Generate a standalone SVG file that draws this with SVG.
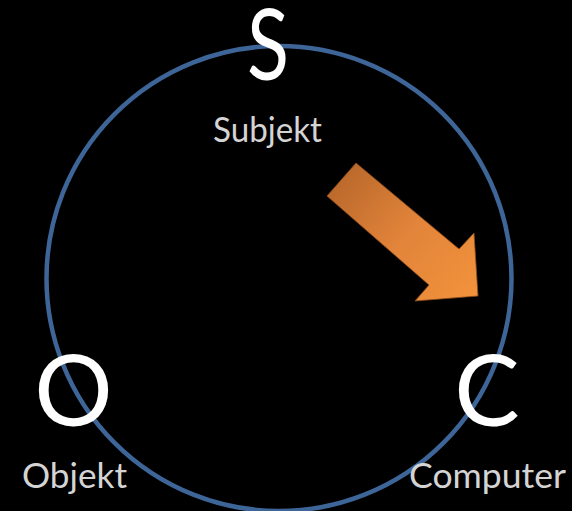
<svg xmlns="http://www.w3.org/2000/svg" width="572" height="511" viewBox="0 0 572 511">
<style>
.big{font-family:Lato,"Open Sans","Liberation Sans",sans-serif;font-size:98px;font-weight:400;fill:#ffffff;text-anchor:middle}
.lbl{font-family:Lato,"Open Sans","Liberation Sans",sans-serif;font-size:34px;font-weight:400;fill:#d4d4d4}
</style>
<defs>
<linearGradient id="og" x1="330" y1="170" x2="480" y2="300" gradientUnits="userSpaceOnUse">
<stop offset="0" stop-color="#b5652a"/>
<stop offset="0.5" stop-color="#e2843a"/>
<stop offset="1" stop-color="#f3933c"/>
</linearGradient>
</defs>
<rect width="572" height="511" fill="#000000"/>
<g id="connectors">
<circle cx="279" cy="278.5" r="232.5" fill="none" stroke="#3e6598" stroke-width="4.5"/>
<polygon points="356,163 327,196 429,285 415,301 478,296 474,233 459,249" fill="url(#og)" stroke="#8a4a1a" stroke-width="0.8"/>
</g>
<g id="node-s">
<text class="big" x="268" y="80" textLength="42" lengthAdjust="spacingAndGlyphs">S</text>
<text class="lbl" x="213" y="142" textLength="109" lengthAdjust="spacingAndGlyphs">Subjekt</text>
</g>
<g id="node-o">
<text class="big" x="73.5" y="426">O</text>
<text class="lbl" x="22" y="488" textLength="105" lengthAdjust="spacingAndGlyphs">Objekt</text>
</g>
<g id="node-c">
<text class="big" x="487" y="426">C</text>
<text class="lbl" x="409" y="488" textLength="157" lengthAdjust="spacingAndGlyphs">Computer</text>
</g>
</svg>
